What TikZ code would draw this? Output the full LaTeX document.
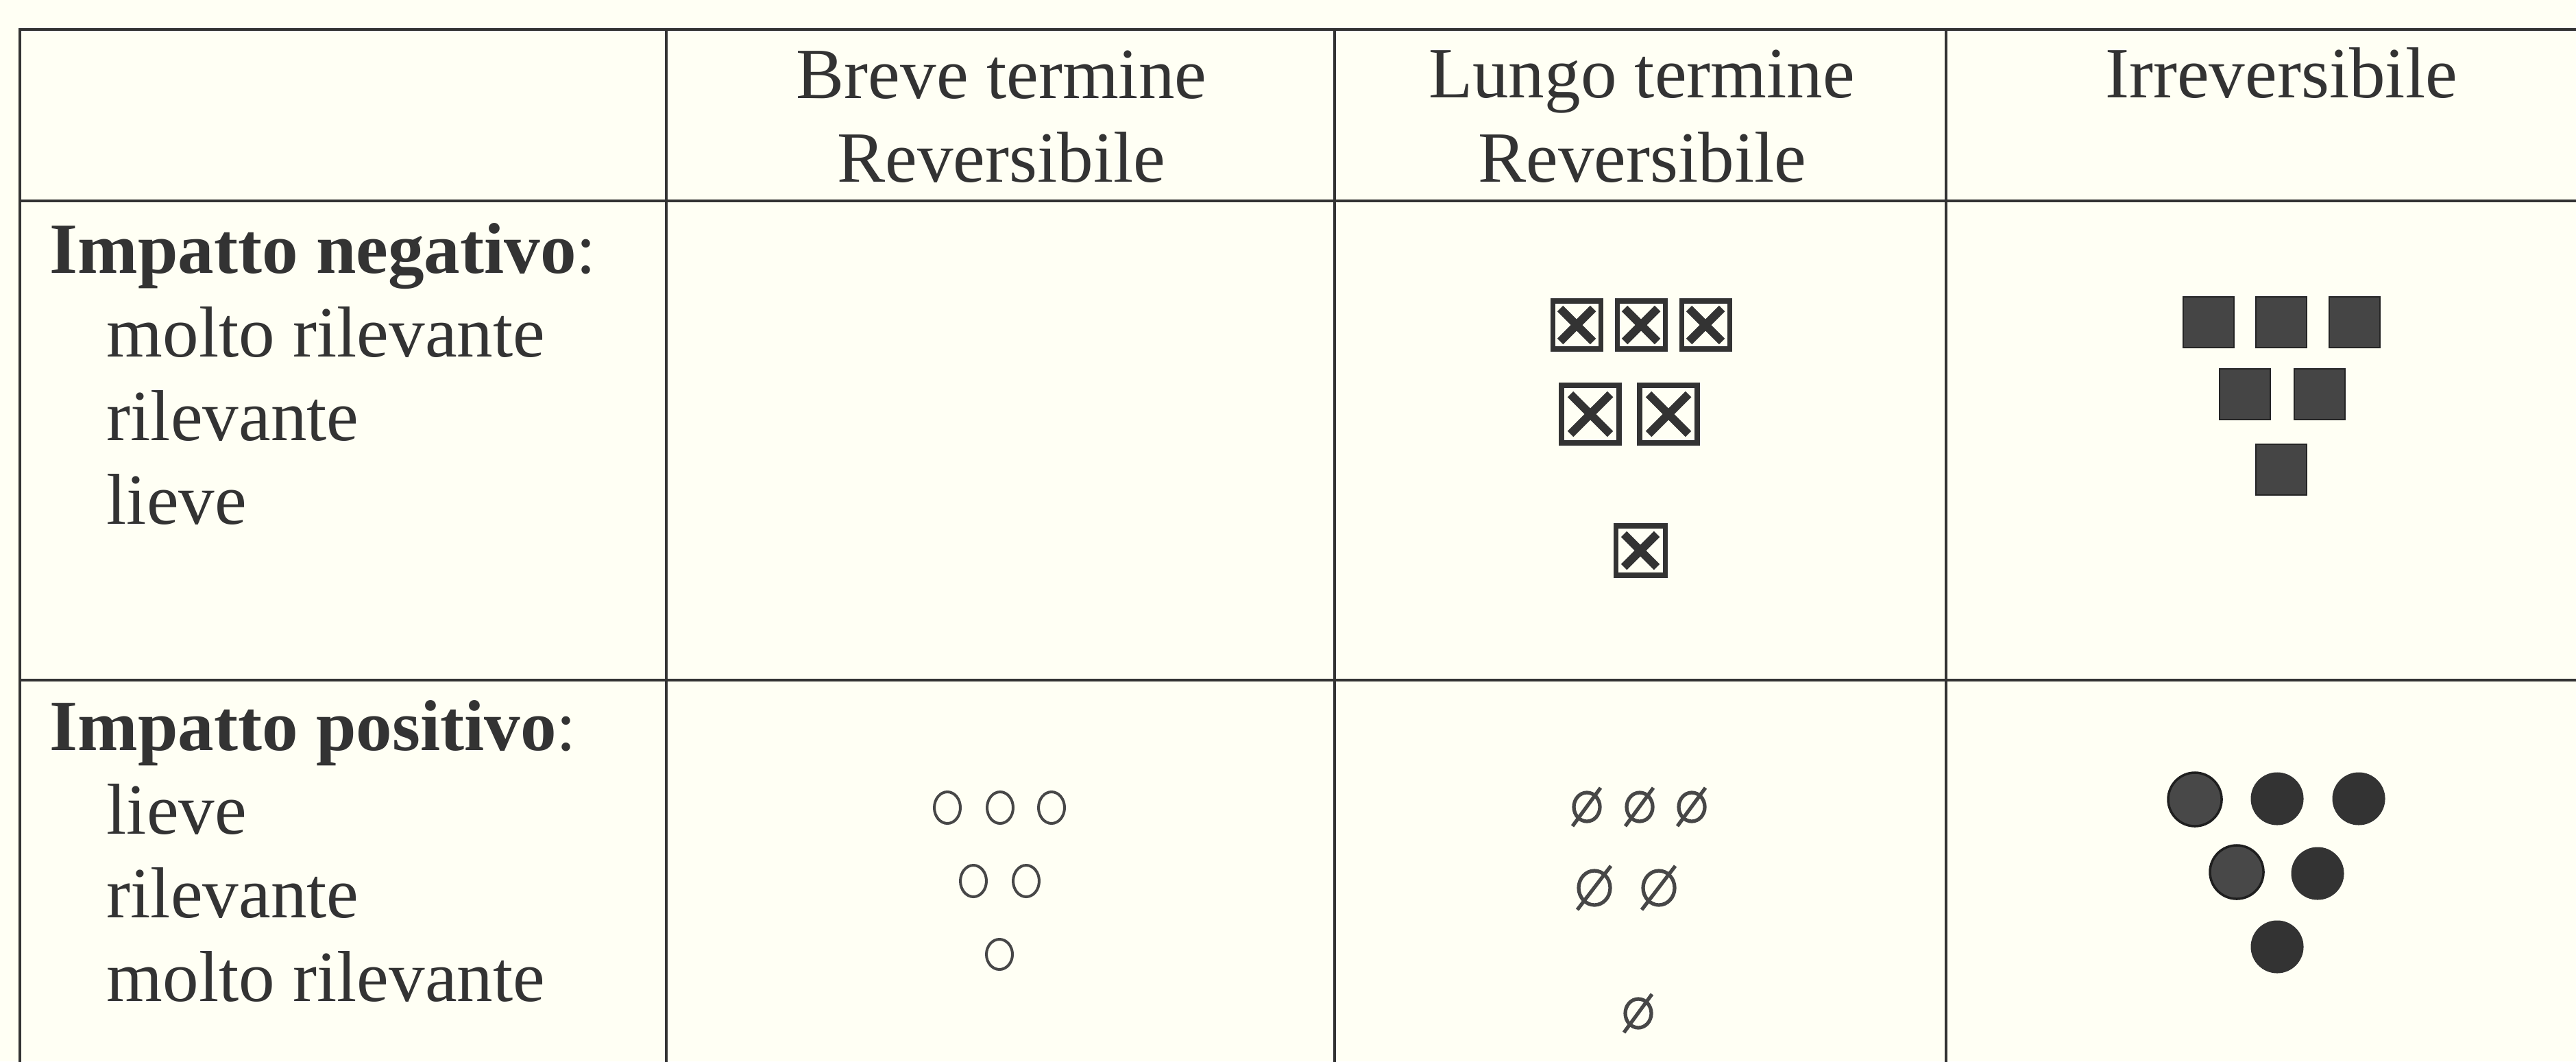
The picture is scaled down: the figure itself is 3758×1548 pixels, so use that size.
\documentclass[tikz,border=0pt]{standalone}
\usepackage{fontspec}
\setmainfont{Liberation Serif}
\usetikzlibrary{calc}
\definecolor{ink}{HTML}{333333}
\definecolor{bgc}{HTML}{FFFFF4}
\definecolor{sqfill}{HTML}{454545}
\definecolor{dotlight}{HTML}{484848}
\newcommand\fs{\fontsize{29.9pt}{34.7pt}\selectfont}
% boxed cross: name, x, y, box size (px), arm half extent (px), border width
\newcommand\xboxsym[6]{%
  \node[xboxst, line width=#6, minimum size=#4*0.01cm] (#1) at (#2,#3) {};
  \draw[xarm] ([shift={(-#5,-#5)}]#1.center) -- ([shift={(#5,#5)}]#1.center);
  \draw[xarm] ([shift={(-#5,#5)}]#1.center) -- ([shift={(#5,-#5)}]#1.center);
}
% slashed o: name, x, y, rx (px), ry (px)
\newcommand\slasho[5]{%
  \coordinate (#1) at (#2,#3);
  \draw[slashring] (#1) ellipse [x radius=#4*0.01cm, y radius=#5*0.01cm];
  \draw[slashring] ([shift={(-#4-2,#5+7)}]#1) -- ([shift={(#4+1,-#5-7)}]#1);
}
% plain ring: name, x, y, rx, ry
\newcommand\plaino[5]{%
  \coordinate (#1) at (#2,#3);
  \draw[ring] (#1) ellipse [x radius=#4*0.01cm, y radius=#5*0.01cm];
}
\begin{document}
\begin{tikzpicture}[x=0.01cm,y=-0.01cm,
  gridline/.style={line width=1.28pt, draw=ink, line cap=rect},
  lbl/.style={font=\fs, text=ink, inner sep=0pt, anchor=base west},
  hdr/.style={font=\fs, text=ink, inner sep=0pt, anchor=base},
  xboxst/.style={draw=ink, rectangle, inner sep=0pt, fill=bgc},
  xarm/.style={draw=ink, line width=3.4pt},
  fsq/.style={rectangle, fill=sqfill, draw=ink!70!black, line width=0.8pt, inner sep=0pt, minimum size=0.74cm},
  fdot/.style={circle, fill=ink, inner sep=0pt, minimum size=0.77cm},
  fdotl/.style={circle, fill=dotlight, draw=ink!60!black, line width=1pt, inner sep=0pt, minimum size=0.78cm},
  ring/.style={draw=ink!90, line width=1.14pt},
  slashring/.style={draw=ink!90, line width=1.5pt},
]
\useasboundingbox (0,0) rectangle (3758,1548);
\fill[bgc] (0,0) rectangle (3758,1548);

% grid
\draw[gridline] (29,43) -- (3758,43);
\draw[gridline] (29,293) -- (3758,293);
\draw[gridline] (29,992) -- (3758,992);
\draw[gridline] (29,43) -- (29,1548);
\draw[gridline] (972,43) -- (972,1548);
\draw[gridline] (1947,43) -- (1947,1548);
\draw[gridline] (2839,43) -- (2839,1548);

% headers
\node[hdr] (h1a) at (1461,143) {Breve termine};
\node[hdr] (h1b) at (1461,265) {Reversibile};
\node[hdr] (h2a) at (2395,142) {Lungo termine};
\node[hdr] (h2b) at (2396,265) {Reversibile};
\node[hdr] (h3a) at (3328,142) {Irreversibile};

% row labels
\node[lbl] (neg)  at (72,398)  {\textbf{Impatto negativo}:};
\node[lbl] (neg1) at (155,520) {molto rilevante};
\node[lbl] (neg2) at (155,642) {rilevante};
\node[lbl] (neg3) at (155,764) {lieve};
\node[lbl] (pos)  at (72,1094) {\textbf{Impatto positivo}:};
\node[lbl] (pos1) at (155,1216) {lieve};
\node[lbl] (pos2) at (155,1338) {rilevante};
\node[lbl] (pos3) at (155,1460) {molto rilevante};

% negative, long term reversible: boxed crosses
\xboxsym{xa1}{2300}{474}{70}{24}{2pt}
\xboxsym{xa2}{2394}{474}{70}{24}{2pt}
\xboxsym{xa3}{2488}{474}{70}{24}{2pt}
\xboxsym{xb1}{2320}{604}{84}{29}{2.5pt}
\xboxsym{xb2}{2434}{604}{84}{29}{2.5pt}
\xboxsym{xc1}{2393}{803}{72}{24}{2pt}

% negative, irreversible: filled squares
\node[fsq] (sa1) at (3222,470) {};
\node[fsq] (sa2) at (3328,470) {};
\node[fsq] (sa3) at (3435,470) {};
\node[fsq] (sb1) at (3275,575) {};
\node[fsq] (sb2) at (3384,575) {};
\node[fsq] (sc1) at (3328,685) {};

% positive, short term reversible: rings
\plaino{oa1}{1382}{1178}{19}{23}
\plaino{oa2}{1459}{1178}{19}{23}
\plaino{oa3}{1534}{1178}{19}{23}
\plaino{ob1}{1420}{1285}{19}{23}
\plaino{ob2}{1497}{1285}{19}{23}
\plaino{oc1}{1458}{1392}{19}{22}

% positive, long term reversible: slashed rings
\slasho{pa1}{2315}{1177}{19}{21}
\slasho{pa2}{2392}{1177}{19}{21}
\slasho{pa3}{2468}{1177}{19}{21}
\slasho{pb1}{2326}{1295}{23}{25}
\slasho{pb2}{2420}{1295}{23}{25}
\slasho{pc1}{2390}{1478}{19}{21}

% positive, irreversible: filled dots
\node[fdotl] (da1) at (3202,1166) {};
\node[fdot]  (da2) at (3322,1165) {};
\node[fdot]  (da3) at (3441,1165) {};
\node[fdotl] (db1) at (3263,1272) {};
\node[fdot]  (db2) at (3381,1274) {};
\node[fdot]  (dc1) at (3322,1381) {};
\end{tikzpicture}
\end{document}
